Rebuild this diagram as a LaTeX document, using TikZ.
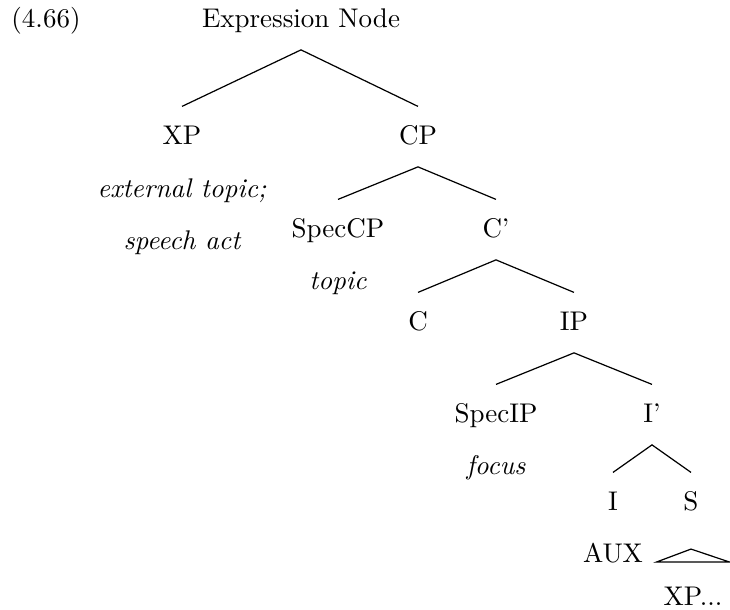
\documentclass[tikz,border=0pt]{standalone}
\begin{document}
\begin{tikzpicture}[x=0.3704pt,y=-0.3704pt,
  lbl/.style={inner sep=0pt,text height=7pt,text depth=2pt,font=\normalsize},
  note/.style={lbl,font=\itshape},
  edge/.style={line width=0.45pt}]
\useasboundingbox (0,0) rectangle (730,610);
\node[lbl] (num) at (46,21) {(4.66)};
\node[lbl] (EN) at (301,21) {Expression Node};
\node[lbl] (XP) at (182,138) {XP};
\node[lbl] (CP) at (418,138) {CP};
\node[note] (ext) at (182,191) {external topic;};
\node[note] (sa) at (182,243) {speech act};
\node[lbl] (SpecCP) at (338,231) {SpecCP};
\node[lbl] (Cb) at (496,231) {C'};
\node[note] (top) at (338,283) {topic};
\node[lbl] (C) at (418,324) {C};
\node[lbl] (IP) at (574,324) {IP};
\node[lbl] (SpecIP) at (496,416) {SpecIP};
\node[lbl] (Ib) at (652,416) {I'};
\node[note] (foc) at (496,468) {focus};
\node[lbl] (I) at (613,504) {I};
\node[lbl] (S) at (691,504) {S};
\node[lbl] (AUX) at (613,556) {AUX};
\node[lbl] (XPd) at (693,599) {XP...};
\foreach \p/\a/\b in {EN/XP/CP, CP/SpecCP/Cb, Cb/C/IP, IP/SpecIP/Ib, Ib/I/S}{
  \draw[edge] ([yshift=7pt]\a.north) -- ([yshift=-6pt]\p.south) -- ([yshift=7pt]\b.north);
}
\draw[edge] ([yshift=-12pt]S.south) -- ([xshift=13.5pt,yshift=9pt]XPd.north) -- ([xshift=-13.5pt,yshift=9pt]XPd.north) -- cycle;
\end{tikzpicture}
\end{document}
